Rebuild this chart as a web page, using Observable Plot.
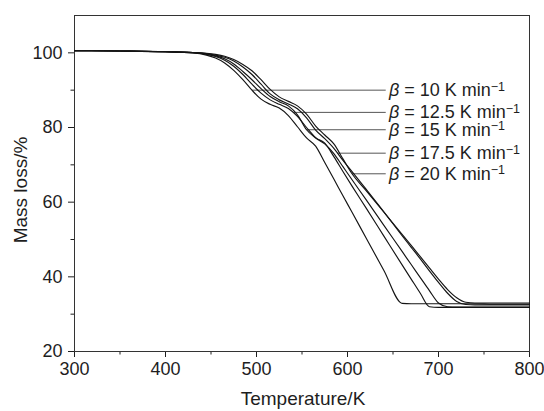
<!DOCTYPE html>
<html>
<head>
<meta charset="utf-8">
<script src="https://cdn.jsdelivr.net/npm/d3@7"></script>
<script src="https://cdn.jsdelivr.net/npm/@observablehq/plot@0.6"></script>
<style>
  html, body { margin: 0; padding: 0; background: #fff; }
  #chart { width: 544px; height: 411px; }
</style>
</head>
<body>
<div id="chart"></div>
<script>
// ---- data ----
const temps = [300, 350, 400, 430, 445, 455, 465, 475, 485, 495, 505, 515, 525, 535, 545, 555, 565, 575, 585, 595, 605, 620, 640, 660, 670, 680, 690, 700, 710, 720, 730, 740, 760, 800];

const mass10  = [100.6, 100.5, 100.3, 100.0, 99.4, 98.6, 97.3, 95.3, 92.8, 90.0, 87.6, 86.2, 85.2, 83.2, 80.2, 77.2, 75.0, 70.6, 66.2, 61.7, 57.3, 50.6, 41.7, 32.9, 32.8, 32.8, 32.8, 32.8, 32.8, 32.8, 32.8, 32.8, 32.7, 32.7];
const mass125 = [100.6, 100.5, 100.3, 100.0, 99.6, 99.0, 98.0, 96.4, 94.2, 91.6, 89.2, 87.4, 86.2, 85.1, 83.0, 80.0, 77.3, 75.8, 72.2, 68.2, 64.3, 58.6, 50.9, 43.2, 39.4, 35.6, 32.0, 31.8, 31.8, 31.8, 31.8, 31.8, 31.8, 31.8];
const mass15  = [100.6, 100.5, 100.3, 100.1, 99.7, 99.2, 98.4, 97.0, 95.0, 92.8, 90.4, 88.3, 86.9, 85.8, 83.4, 79.4, 77.2, 75.6, 73.0, 69.5, 66.0, 60.8, 53.8, 46.8, 43.3, 39.8, 36.3, 33.0, 32.0, 31.9, 31.9, 31.9, 31.9, 31.9];
const mass175 = [100.6, 100.5, 100.3, 100.1, 99.8, 99.4, 98.8, 97.8, 96.2, 94.2, 91.6, 89.0, 87.4, 86.3, 85.0, 82.6, 79.3, 77.0, 74.4, 71.2, 68.2, 63.6, 57.4, 51.0, 47.9, 44.8, 41.6, 38.5, 35.6, 33.4, 32.6, 32.5, 32.5, 32.5];
const mass20  = [100.6, 100.5, 100.3, 100.1, 99.9, 99.6, 99.1, 98.2, 96.9, 95.2, 92.8, 90.2, 88.2, 87.0, 85.8, 83.6, 80.4, 78.0, 75.6, 71.6, 67.6, 63.2, 57.3, 51.4, 48.4, 45.4, 42.4, 39.4, 36.6, 34.4, 33.2, 33.0, 33.0, 33.0];

const heatingRates = ["10", "12.5", "15", "17.5", "20"];
const leaderTemps = [495, 540, 555, 589, 605];   // where each label's leader touches its curve
const xMajor = [300, 400, 500, 600, 700, 800];
const xMinor = [350, 450, 550, 650, 750];
const yMajor = [20, 40, 60, 80, 100];
const yMinor = [30, 50, 70, 90];

// ---- build tables ----
const seriesMass = [mass10, mass125, mass15, mass175, mass20];
const rows = [];
seriesMass.forEach((arr, s) => arr.forEach((m, i) => rows.push({rate: heatingRates[s], T: temps[i], M: m})));

function interp(arr, t) {
  for (let i = 0; i < temps.length - 1; i++) {
    if (t >= temps[i] && t <= temps[i + 1]) {
      const f = (t - temps[i]) / (temps[i + 1] - temps[i]);
      return arr[i] + f * (arr[i + 1] - arr[i]);
    }
  }
  return arr[arr.length - 1];
}
const leaders = heatingRates.map((r, s) => ({rate: r, t: leaderTemps[s], m: interp(seriesMass[s], leaderTemps[s])}));

const leaderEndT = 642;
const labelT = 645.5;
const font = "'Liberation Sans', Arial, Helvetica, sans-serif";

const chart = Plot.plot({
  width: 544,
  height: 411,
  marginLeft: 74,
  marginRight: 15,
  marginTop: 15,
  marginBottom: 60,
  style: {fontFamily: font, color: "#1e1e1e", background: "#fff", overflow: "visible"},
  x: {domain: [300, 800]},
  y: {domain: [20, 110]},
  marks: [
    Plot.axisX({ticks: xMajor, tickSize: 6, tickPadding: 4.5, fontSize: 18, label: null}),
    Plot.axisX({ticks: xMinor, tickSize: 3.5, tickFormat: () => "", label: null}),
    Plot.axisY({ticks: yMajor, tickSize: 6, tickPadding: 6, fontSize: 18, label: null}),
    Plot.axisY({ticks: yMinor, tickSize: 3.5, tickFormat: () => "", label: null}),
    Plot.frame({stroke: "#333", strokeWidth: 1}),
    Plot.link(leaders, {x1: "t", y1: "m", x2: () => leaderEndT, y2: "m", stroke: "#555", strokeWidth: 1}),
    Plot.line(rows, {x: "T", y: "M", z: "rate", stroke: "#141414", strokeWidth: 1.15, curve: "monotone-x"}),
    Plot.text(leaders, {x: () => labelT, y: "m", text: d => `β = ${d.rate} K min−1`, textAnchor: "start", fontSize: 18, fill: "#1e1e1e"})
  ]
});

document.getElementById("chart").appendChild(chart);

// rich formatting of the curve labels: italic beta, superscript −1
const svg = d3.select(chart);
svg.selectAll("text").each(function () {
  const t = d3.select(this);
  const full = this.textContent;
  const m = full.match(/^β = (.*) K min−1$/);
  if (!m) return;
  t.selectAll("*").remove();
  t.text(null);
  t.append("tspan").attr("font-style", "italic").text("β");
  t.append("tspan").text(` = ${m[1]} K min`);
  t.append("tspan").attr("dy", "-0.42em").attr("font-size", "12.5px").text("−1");
});

// axis titles
svg.append("text")
  .attr("x", 303).attr("y", 405)
  .attr("text-anchor", "middle")
  .attr("font-family", font).attr("font-size", 19).attr("fill", "#1e1e1e")
  .text("Temperature/K");
svg.append("text")
  .attr("transform", "translate(27,190) rotate(-90)")
  .attr("text-anchor", "middle")
  .attr("font-family", font).attr("font-size", 19).attr("fill", "#1e1e1e")
  .text("Mass loss/%");
</script>
</body>
</html>
